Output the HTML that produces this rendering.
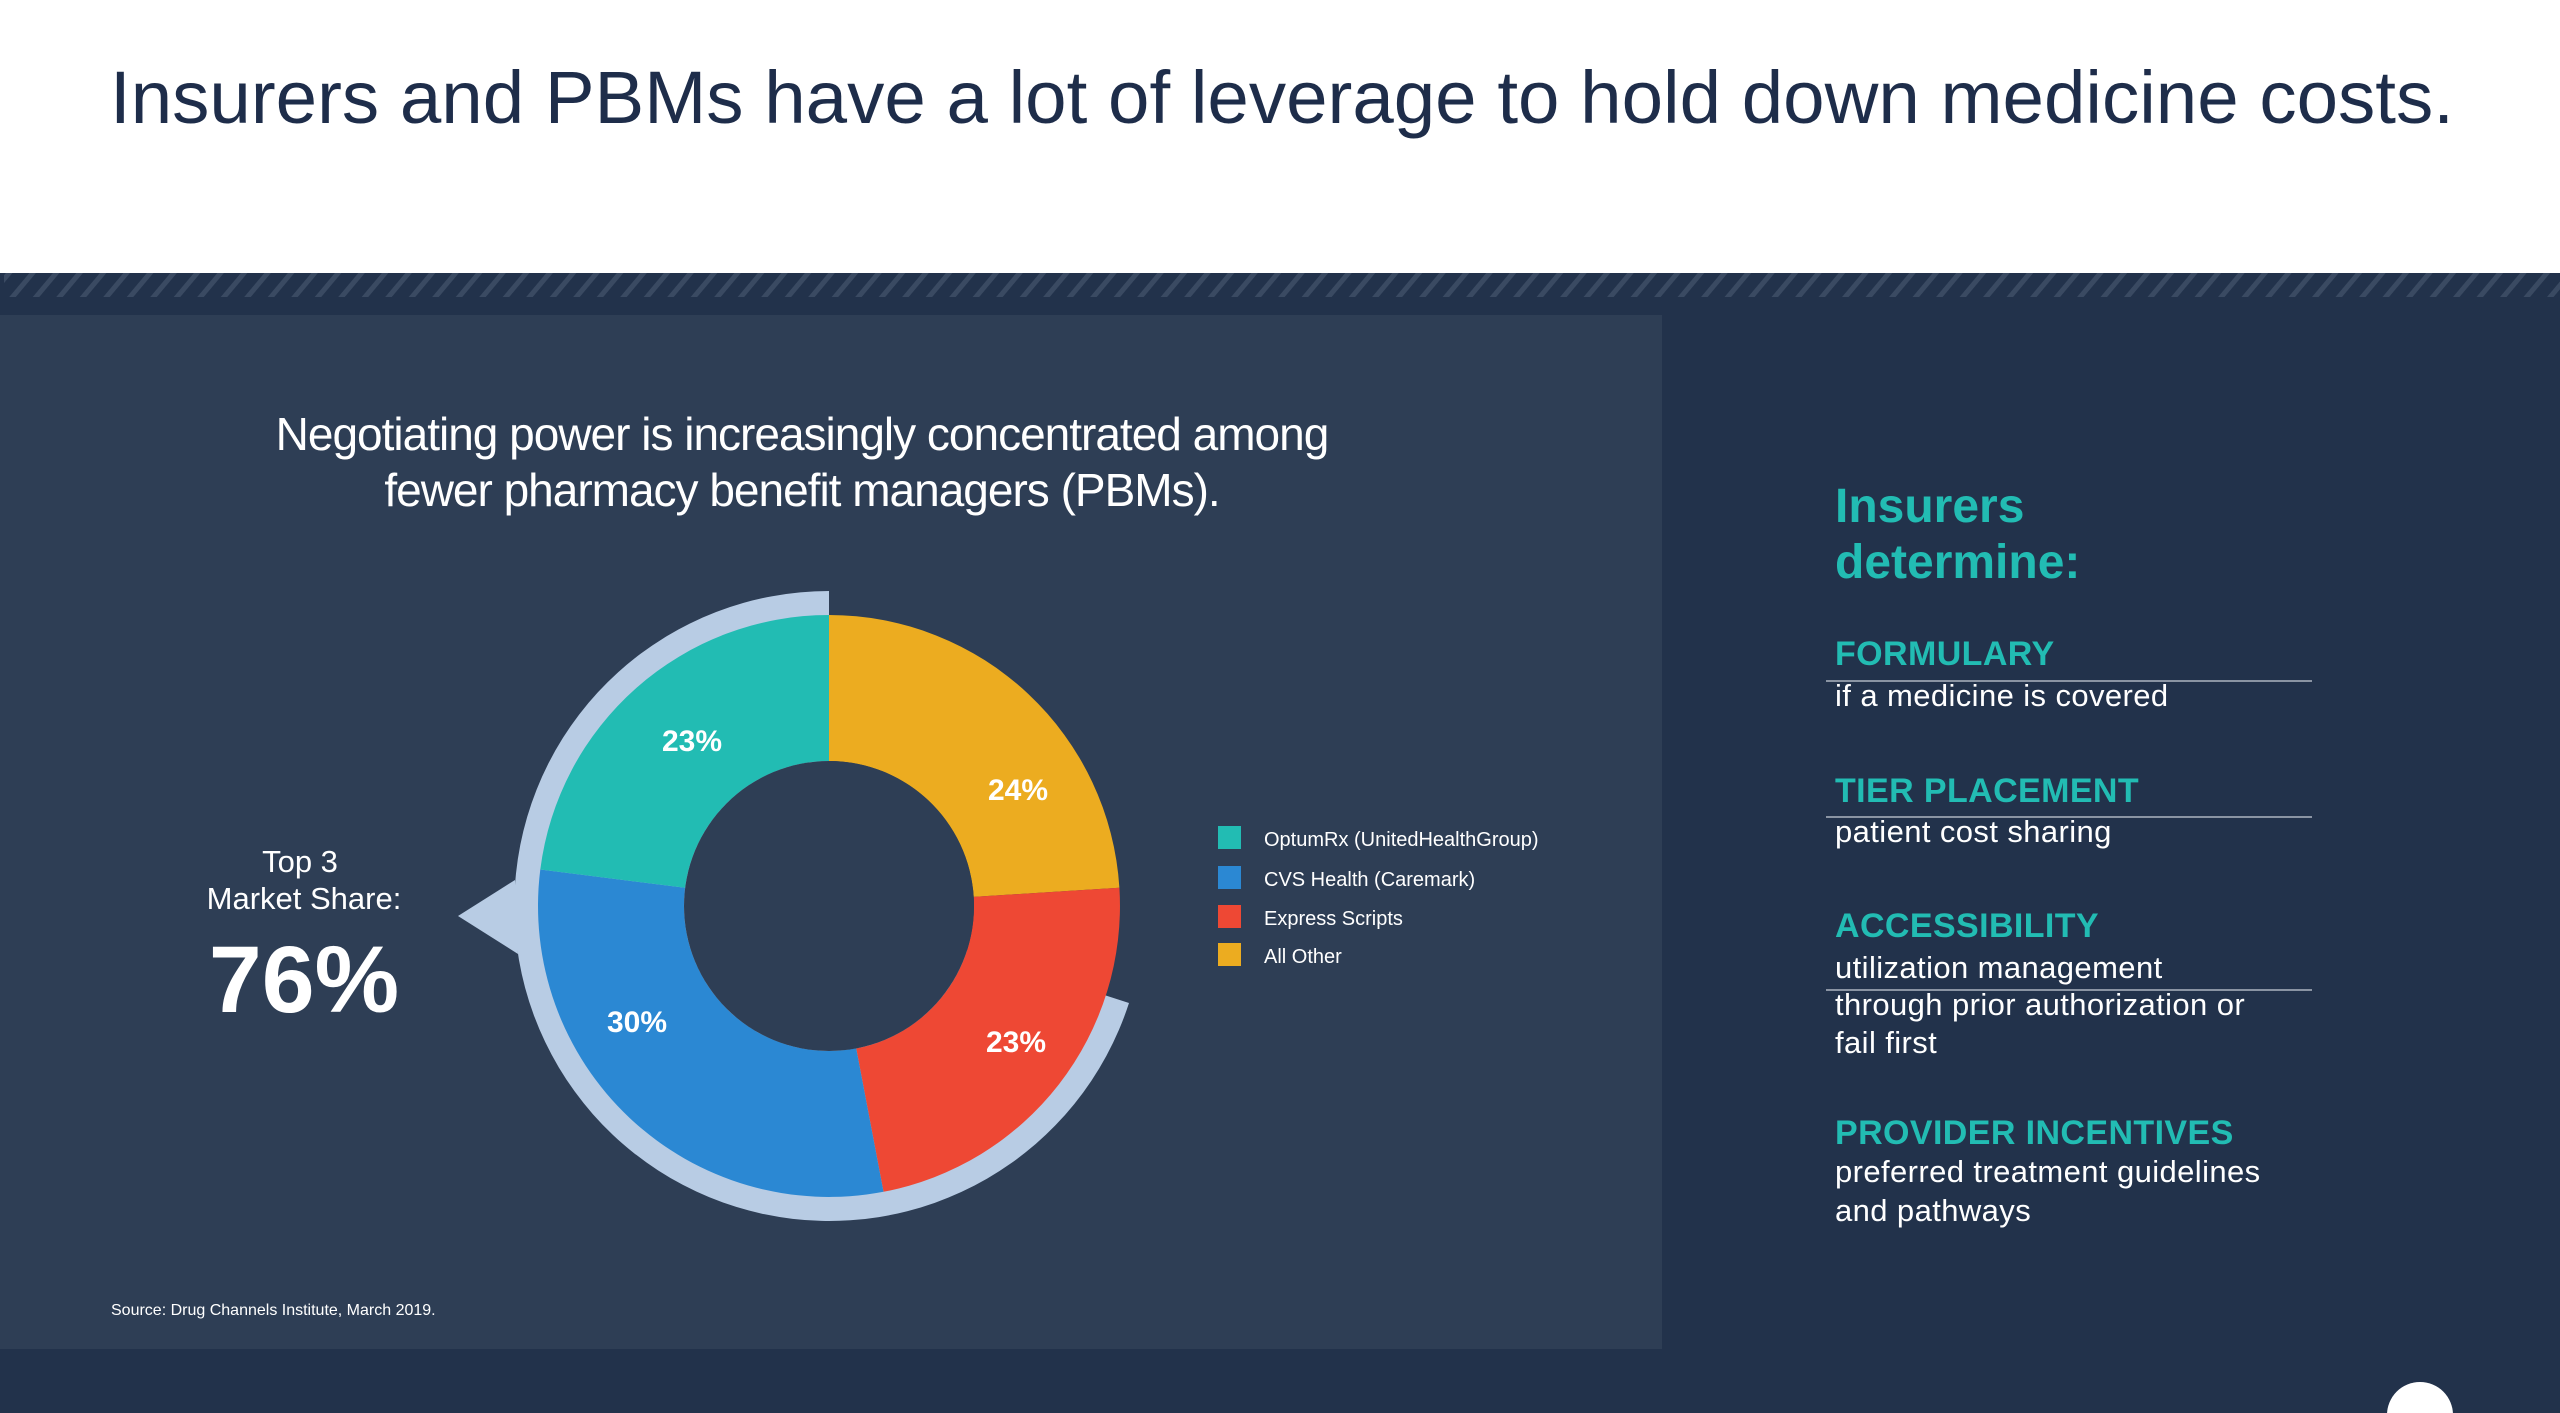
<!DOCTYPE html>
<html><head><meta charset="utf-8"><style>
html,body{margin:0;padding:0;width:2560px;height:1413px;overflow:hidden;background:#22324b}
svg{display:block}
text{font-family:"Liberation Sans",Arial,sans-serif}
</style></head><body>
<svg width="2560" height="1413" viewBox="0 0 2560 1413" xmlns="http://www.w3.org/2000/svg">
<defs>
<pattern id="h" width="18" height="18" patternUnits="userSpaceOnUse" patternTransform="rotate(40)">
<rect width="18" height="18" fill="#22324b"/><rect width="5" height="18" fill="#3a4a62"/></pattern>
</defs>
<rect x="0" y="0" width="2560" height="273" fill="#fff"/>
<text x="1282" y="123" text-anchor="middle" font-size="74.5" fill="#1e2d4a">Insurers and PBMs have a lot of leverage to hold down medicine costs.</text>
<rect x="0" y="273" width="2560" height="42" fill="#22324b"/>
<rect x="4" y="273" width="2556" height="24" fill="url(#h)"/>
<rect x="0" y="315" width="1662" height="1034" fill="#2e3e55"/>
<text x="802" y="450" text-anchor="middle" font-size="46" fill="#fff" letter-spacing="-1">Negotiating power is increasingly concentrated among</text>
<text x="802" y="506" text-anchor="middle" font-size="46" fill="#fff" letter-spacing="-1">fewer pharmacy benefit managers (PBMs).</text>
<!-- ring -->
<path d="M829 906 L1129 1003 A315 315 0 1 1 829 591 Z" fill="#b8cce4"/>
<polygon points="458,916 515,880 518,954" fill="#b8cce4"/>
<!-- donut -->
<g transform="translate(829,906)">
<path d="M0,-291 A291 291 0 0 1 290.4,-18.3 L144.7,-9.1 A145 145 0 0 0 0,-145Z" fill="#ecac20"/>
<path d="M290.4,-18.3 A291 291 0 0 1 54.5,285.8 L27.2,142.4 A145 145 0 0 0 144.7,-9.1Z" fill="#ee4834"/>
<path d="M54.5,285.8 A291 291 0 0 1 -288.7,-36.5 L-143.9,-18.2 A145 145 0 0 0 27.2,142.4Z" fill="#2b88d3"/>
<path d="M-288.7,-36.5 A291 291 0 0 1 0,-291 L0,-145 A145 145 0 0 0 -143.9,-18.2Z" fill="#22bcb3"/>
<circle r="145" fill="#2e3e55"/>
</g>
<g font-size="30" font-weight="bold" fill="#fff" text-anchor="middle">
<text x="692" y="751">23%</text>
<text x="1018" y="800">24%</text>
<text x="637" y="1032">30%</text>
<text x="1016" y="1052">23%</text>
</g>
<g fill="#fff" text-anchor="middle">
<text x="300" y="872" font-size="31">Top 3</text>
<text x="304" y="909" font-size="31">Market Share:</text>
<text x="304" y="1012" font-size="95" font-weight="bold">76%</text>
</g>
<g font-size="20" fill="#fff">
<rect x="1218" y="826" width="23" height="23" fill="#22bcb3"/><text x="1264" y="846">OptumRx (UnitedHealthGroup)</text>
<rect x="1218" y="866" width="23" height="23" fill="#2b88d3"/><text x="1264" y="886">CVS Health (Caremark)</text>
<rect x="1218" y="905" width="23" height="23" fill="#ee4834"/><text x="1264" y="925">Express Scripts</text>
<rect x="1218" y="943" width="23" height="23" fill="#ecac20"/><text x="1264" y="963">All Other</text>
</g>
<text x="111" y="1315" font-size="16" fill="#fff">Source: Drug Channels Institute, March 2019.</text>
<!-- right panel -->
<g fill="#22bcb3" font-weight="bold">
<text x="1835" y="522" font-size="48">Insurers</text>
<text x="1835" y="578" font-size="48">determine:</text>
<g font-size="34" letter-spacing="0.4">
<text x="1835" y="665">FORMULARY</text>
<text x="1835" y="802">TIER PLACEMENT</text>
<text x="1835" y="937">ACCESSIBILITY</text>
<text x="1835" y="1144">PROVIDER INCENTIVES</text>
</g>
</g>
<g stroke="#8a94a3" stroke-width="2">
<line x1="1826" y1="681" x2="2312" y2="681"/>
<line x1="1826" y1="817" x2="2312" y2="817"/>
<line x1="1826" y1="990" x2="2312" y2="990"/>
</g>
<g fill="#fff" font-size="31" letter-spacing="0.4">
<text x="1835" y="706">if a medicine is covered</text>
<text x="1835" y="842">patient cost sharing</text>
<text x="1835" y="978">utilization management</text>
<text x="1835" y="1015">through prior authorization or</text>
<text x="1835" y="1053">fail first</text>
<text x="1835" y="1182">preferred treatment guidelines</text>
<text x="1835" y="1221">and pathways</text>
</g>
<circle cx="2420" cy="1415" r="33" fill="#fff"/>
</svg>
</body></html>
